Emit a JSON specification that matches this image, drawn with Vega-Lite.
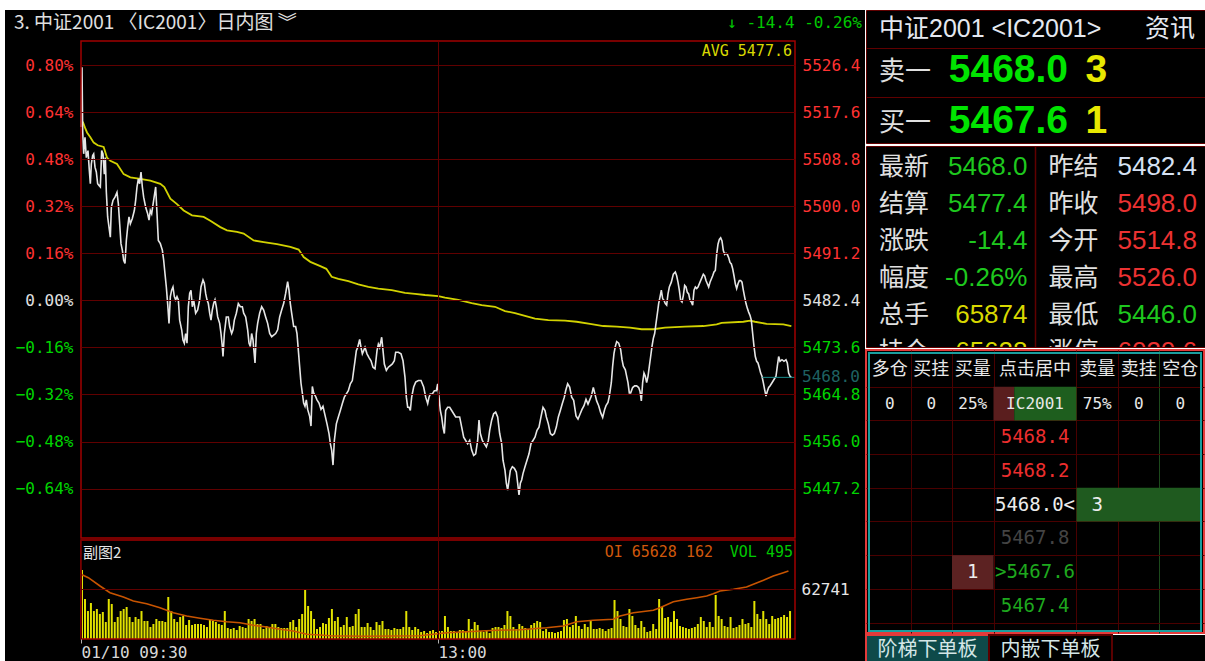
{
"$schema": "https://vega.github.io/schema/vega-lite/v6.json",
"background": "#ffffff",
"padding": {"left": 5, "top": 9, "right": 0, "bottom": 0},
"spacing": 0,
"align": "none",
"config": {
  "view": {"fill": "#000000", "stroke": null},
  "concat": {"spacing": 0},
  "axis": {"labelFont": "DejaVu Sans Mono", "labelFontSize": 16, "labelColor": "#e0e0e0", "domain": false, "ticks": false, "gridColor": "#600000", "gridWidth": 1, "labelOverlap": false, "labelFlush": false}
},
"datasets": {
  "price": [
{"m":0,"p":5514.8},{"m":0.34,"p":5526.0},{"m":0.56,"p":5514.1},{"m":0.9,"p":5509.8},{"m":1.34,"p":5512.9},{"m":1.79,"p":5509.1},{"m":2.35,"p":5510.4},{"m":2.8,"p":5506.7},{"m":3.14,"p":5504.2},{"m":3.47,"p":5507.9},{"m":3.92,"p":5509.5},{"m":4.26,"p":5509.8},{"m":4.71,"p":5507.3},{"m":5.15,"p":5506.4},{"m":5.6,"p":5504.2},{"m":6.05,"p":5503.9},{"m":6.5,"p":5503.6},{"m":6.95,"p":5510.4},{"m":7.39,"p":5509.8},{"m":7.84,"p":5506.0},{"m":8.18,"p":5509.1},{"m":8.52,"p":5502.6},{"m":8.96,"p":5498.0},{"m":9.41,"p":5496.1},{"m":9.86,"p":5494.2},{"m":10.2,"p":5499.8},{"m":10.76,"p":5501.1},{"m":11.43,"p":5501.7},{"m":12.1,"p":5502.6},{"m":12.55,"p":5500.5},{"m":13.0,"p":5496.7},{"m":13.44,"p":5493.0},{"m":13.89,"p":5491.8},{"m":14.34,"p":5489.9},{"m":14.79,"p":5489.3},{"m":15.24,"p":5493.6},{"m":15.69,"p":5496.1},{"m":16.13,"p":5498.0},{"m":16.58,"p":5496.7},{"m":17.25,"p":5497.7},{"m":17.93,"p":5499.2},{"m":18.37,"p":5501.1},{"m":18.82,"p":5503.6},{"m":19.27,"p":5505.1},{"m":19.72,"p":5504.2},{"m":20.17,"p":5506.4},{"m":20.62,"p":5503.6},{"m":21.06,"p":5501.7},{"m":21.74,"p":5499.8},{"m":22.41,"p":5498.6},{"m":22.86,"p":5497.4},{"m":23.3,"p":5499.2},{"m":23.75,"p":5498.6},{"m":24.42,"p":5501.1},{"m":25.1,"p":5503.6},{"m":25.55,"p":5498.6},{"m":25.99,"p":5493.6},{"m":26.67,"p":5493.0},{"m":27.34,"p":5491.8},{"m":27.79,"p":5489.9},{"m":28.23,"p":5487.4},{"m":28.68,"p":5484.9},{"m":29.13,"p":5481.8},{"m":29.58,"p":5478.1},{"m":30.03,"p":5483.1},{"m":30.47,"p":5484.3},{"m":30.92,"p":5484.9},{"m":31.37,"p":5483.1},{"m":31.82,"p":5482.5},{"m":32.27,"p":5483.1},{"m":32.72,"p":5482.5},{"m":33.16,"p":5478.7},{"m":33.84,"p":5476.9},{"m":34.28,"p":5475.0},{"m":34.73,"p":5474.4},{"m":35.18,"p":5476.2},{"m":35.63,"p":5474.4},{"m":36.08,"p":5481.2},{"m":36.53,"p":5483.7},{"m":36.97,"p":5484.3},{"m":37.42,"p":5481.2},{"m":37.87,"p":5482.5},{"m":38.54,"p":5480.0},{"m":39.21,"p":5480.6},{"m":39.89,"p":5482.5},{"m":40.33,"p":5484.9},{"m":41.01,"p":5486.2},{"m":41.45,"p":5485.6},{"m":41.9,"p":5483.7},{"m":42.35,"p":5482.5},{"m":42.8,"p":5481.8},{"m":43.25,"p":5480.0},{"m":43.7,"p":5478.7},{"m":44.14,"p":5480.6},{"m":44.59,"p":5481.8},{"m":45.04,"p":5482.5},{"m":45.49,"p":5481.2},{"m":45.94,"p":5479.3},{"m":46.61,"p":5478.1},{"m":47.06,"p":5476.2},{"m":47.5,"p":5473.8},{"m":47.73,"p":5471.9},{"m":48.18,"p":5476.2},{"m":48.85,"p":5479.3},{"m":49.52,"p":5479.3},{"m":49.97,"p":5477.5},{"m":50.64,"p":5476.2},{"m":51.09,"p":5476.9},{"m":51.54,"p":5478.7},{"m":52.21,"p":5480.0},{"m":52.88,"p":5481.8},{"m":53.56,"p":5481.2},{"m":54.23,"p":5481.2},{"m":54.68,"p":5480.0},{"m":55.35,"p":5479.3},{"m":56.02,"p":5476.9},{"m":56.47,"p":5474.4},{"m":56.92,"p":5473.8},{"m":57.36,"p":5476.2},{"m":57.81,"p":5475.0},{"m":58.49,"p":5470.7},{"m":58.93,"p":5476.2},{"m":59.38,"p":5478.1},{"m":60.05,"p":5480.0},{"m":60.73,"p":5481.2},{"m":61.4,"p":5480.6},{"m":62.07,"p":5479.3},{"m":62.74,"p":5478.1},{"m":63.42,"p":5476.2},{"m":64.09,"p":5475.6},{"m":64.76,"p":5475.9},{"m":65.43,"p":5476.2},{"m":66.1,"p":5476.9},{"m":66.78,"p":5479.3},{"m":67.45,"p":5480.6},{"m":68.12,"p":5481.8},{"m":68.79,"p":5483.7},{"m":69.46,"p":5485.9},{"m":69.91,"p":5484.3},{"m":70.36,"p":5481.8},{"m":70.81,"p":5480.0},{"m":71.48,"p":5477.5},{"m":72.15,"p":5477.5},{"m":72.6,"p":5476.2},{"m":73.05,"p":5473.1},{"m":73.5,"p":5470.0},{"m":73.95,"p":5466.9},{"m":74.39,"p":5465.1},{"m":74.84,"p":5463.2},{"m":75.29,"p":5462.6},{"m":75.74,"p":5463.8},{"m":76.19,"p":5462.0},{"m":76.86,"p":5460.7},{"m":77.31,"p":5458.9},{"m":77.76,"p":5466.3},{"m":78.2,"p":5465.1},{"m":78.88,"p":5464.4},{"m":79.32,"p":5463.8},{"m":80.0,"p":5463.2},{"m":80.67,"p":5462.0},{"m":81.34,"p":5462.6},
{"m":82.69,"p":5459.3},{"m":83.36,"p":5457.5},{"m":83.81,"p":5455.6},{"m":84.26,"p":5454.4},{"m":84.71,"p":5451.6},{"m":85.16,"p":5456.2},{"m":85.83,"p":5459.3},{"m":86.5,"p":5460.6},{"m":87.17,"p":5461.8},{"m":87.85,"p":5463.1},{"m":88.52,"p":5464.3},{"m":89.19,"p":5464.9},{"m":89.86,"p":5465.5},{"m":90.53,"p":5466.8},{"m":91.21,"p":5467.4},{"m":91.66,"p":5469.3},{"m":92.1,"p":5471.1},{"m":92.55,"p":5473.0},{"m":93.0,"p":5473.6},{"m":93.67,"p":5475.1},{"m":94.12,"p":5473.6},{"m":94.57,"p":5472.4},{"m":95.02,"p":5473.0},{"m":95.46,"p":5473.6},{"m":96.14,"p":5472.4},{"m":96.81,"p":5471.7},{"m":97.48,"p":5471.1},{"m":98.15,"p":5469.9},{"m":98.83,"p":5469.6},{"m":99.5,"p":5473.0},{"m":99.95,"p":5474.2},{"m":100.39,"p":5473.6},{"m":101.07,"p":5475.5},{"m":101.52,"p":5473.0},{"m":101.96,"p":5470.5},{"m":102.64,"p":5469.3},{"m":103.31,"p":5469.9},{"m":103.98,"p":5470.2},{"m":104.65,"p":5470.5},{"m":105.32,"p":5471.1},{"m":105.77,"p":5472.7},{"m":106.67,"p":5472.7},{"m":107.56,"p":5472.4},{"m":108.24,"p":5471.1},{"m":108.91,"p":5468.0},{"m":109.36,"p":5464.3},{"m":109.81,"p":5462.4},{"m":110.25,"p":5462.4},{"m":110.7,"p":5461.8},{"m":111.15,"p":5464.3},{"m":111.82,"p":5466.2},{"m":112.5,"p":5467.1},{"m":113.39,"p":5467.4},{"m":114.29,"p":5467.4},{"m":115.18,"p":5466.2},{"m":115.86,"p":5464.3},{"m":116.53,"p":5463.1},{"m":116.98,"p":5464.3},{"m":117.42,"p":5464.9},{"m":118.1,"p":5464.9},{"m":118.77,"p":5465.5},{"m":119.44,"p":5465.5},{"m":119.89,"p":5466.8},{"m":120.34,"p":5464.3},{"m":120.79,"p":5461.8},{"m":121.23,"p":5460.6},{"m":121.68,"p":5458.7},{"m":122.13,"p":5457.5},{"m":122.58,"p":5461.8},{"m":123.25,"p":5462.4},{"m":123.92,"p":5462.4},{"m":124.6,"p":5461.8},{"m":125.27,"p":5461.2},{"m":125.94,"p":5460.6},{"m":126.61,"p":5460.6},{"m":127.28,"p":5460.6},{"m":127.96,"p":5458.7},{"m":128.63,"p":5456.8},{"m":129.3,"p":5456.2},{"m":129.97,"p":5455.6},{"m":130.65,"p":5456.2},{"m":131.32,"p":5454.4},{"m":131.99,"p":5453.4},{"m":132.66,"p":5453.7},{"m":133.33,"p":5456.2},{"m":133.78,"p":5460.0},{"m":134.23,"p":5457.5},{"m":134.9,"p":5456.2},{"m":135.57,"p":5455.6},{"m":136.25,"p":5455.0},{"m":136.92,"p":5456.2},{"m":137.37,"p":5458.1},{"m":138.04,"p":5460.0},{"m":138.71,"p":5461.2},{"m":139.38,"p":5461.5},{"m":140.06,"p":5460.6},{"m":140.73,"p":5457.5},{"m":141.4,"p":5455.6},{"m":141.85,"p":5452.5},{"m":142.52,"p":5450.6},{"m":142.97,"p":5448.2},{"m":143.42,"p":5446.9},{"m":143.87,"p":5448.8},{"m":144.31,"p":5450.6},{"m":144.99,"p":5451.3},{"m":145.66,"p":5451.0},{"m":146.33,"p":5450.3},{"m":146.78,"p":5448.2},{"m":147.23,"p":5446.0},{"m":147.68,"p":5448.2},{"m":148.12,"p":5448.8},{"m":148.57,"p":5450.0},{"m":149.24,"p":5451.3},{"m":149.92,"p":5452.5},{"m":150.59,"p":5453.7},{"m":151.26,"p":5455.6},{"m":151.93,"p":5456.2},{"m":152.6,"p":5456.8},{"m":153.28,"p":5458.1},{"m":153.95,"p":5458.7},{"m":154.62,"p":5460.6},{"m":155.29,"p":5462.4},{"m":155.97,"p":5461.8},{"m":156.41,"p":5460.6},{"m":157.09,"p":5459.3},{"m":157.76,"p":5457.5},{"m":158.43,"p":5457.2},{"m":159.1,"p":5457.5},{"m":159.78,"p":5458.7},{"m":160.45,"p":5460.6},{"m":161.12,"p":5461.8},{"m":161.79,"p":5463.1},{"m":162.46,"p":5464.3},{"m":162.91,"p":5465.5},{"m":163.58,"p":5466.8},{"m":164.26,"p":5466.2},{"m":164.93,"p":5464.3},{"m":165.6,"p":5463.7},
{"m":166.39,"p":5460.8},{"m":167.06,"p":5460.2},{"m":167.73,"p":5461.1},{"m":168.4,"p":5462.0},{"m":169.08,"p":5462.7},{"m":169.75,"p":5463.9},{"m":170.42,"p":5463.0},{"m":170.87,"p":5463.6},{"m":171.54,"p":5464.5},{"m":172.21,"p":5466.1},{"m":172.66,"p":5465.1},{"m":173.33,"p":5463.6},{"m":174.01,"p":5462.7},{"m":174.68,"p":5461.4},{"m":175.35,"p":5460.5},{"m":176.02,"p":5462.0},{"m":176.47,"p":5462.7},{"m":177.14,"p":5463.3},{"m":177.59,"p":5464.5},{"m":178.26,"p":5467.0},{"m":178.71,"p":5470.1},{"m":179.16,"p":5472.5},{"m":179.61,"p":5473.8},{"m":180.06,"p":5474.7},{"m":180.73,"p":5474.4},{"m":181.4,"p":5473.2},{"m":181.85,"p":5471.3},{"m":182.3,"p":5470.1},{"m":182.97,"p":5469.4},{"m":183.42,"p":5468.2},{"m":183.86,"p":5467.0},{"m":184.31,"p":5465.1},{"m":184.76,"p":5465.1},{"m":185.43,"p":5466.1},{"m":186.11,"p":5466.4},{"m":186.78,"p":5466.4},{"m":187.45,"p":5466.1},{"m":187.9,"p":5465.4},{"m":188.35,"p":5463.6},{"m":188.79,"p":5467.0},{"m":189.24,"p":5468.8},{"m":189.69,"p":5468.2},{"m":190.14,"p":5467.0},{"m":190.59,"p":5468.2},{"m":191.04,"p":5470.1},{"m":191.48,"p":5471.9},{"m":191.93,"p":5473.8},{"m":192.38,"p":5475.3},{"m":192.83,"p":5476.2},{"m":193.28,"p":5478.1},{"m":193.73,"p":5479.9},{"m":194.17,"p":5481.8},{"m":194.62,"p":5483.0},{"m":195.07,"p":5484.3},{"m":195.52,"p":5482.7},{"m":195.97,"p":5482.4},{"m":196.41,"p":5481.8},{"m":196.86,"p":5481.5},{"m":197.31,"p":5483.6},{"m":197.76,"p":5484.9},{"m":198.43,"p":5485.8},{"m":199.1,"p":5487.3},{"m":199.77,"p":5487.7},{"m":200.22,"p":5487.0},{"m":200.67,"p":5485.8},{"m":201.12,"p":5484.3},{"m":201.57,"p":5482.4},{"m":202.02,"p":5482.1},{"m":202.46,"p":5483.3},{"m":202.91,"p":5485.2},{"m":203.36,"p":5484.9},{"m":203.81,"p":5483.9},{"m":204.26,"p":5483.6},{"m":204.71,"p":5482.4},{"m":205.15,"p":5482.1},{"m":205.6,"p":5481.5},{"m":206.05,"p":5484.3},{"m":206.5,"p":5484.9},{"m":206.95,"p":5484.6},{"m":207.39,"p":5484.9},{"m":208.07,"p":5485.8},{"m":208.74,"p":5486.7},{"m":209.19,"p":5487.3},{"m":209.64,"p":5487.0},{"m":210.08,"p":5486.1},{"m":210.53,"p":5485.5},{"m":210.98,"p":5484.9},{"m":211.43,"p":5485.8},{"m":211.88,"p":5486.4},{"m":212.33,"p":5487.0},{"m":212.77,"p":5487.7},{"m":213.22,"p":5488.0},{"m":213.67,"p":5491.0},{"m":214.12,"p":5492.9},{"m":214.57,"p":5493.8},{"m":215.01,"p":5494.1},{"m":215.46,"p":5493.5},{"m":215.91,"p":5491.7},{"m":216.36,"p":5491.0},{"m":216.81,"p":5491.2},{"m":217.25,"p":5491.0},{"m":217.7,"p":5490.4},{"m":218.15,"p":5489.5},{"m":218.6,"p":5489.2},{"m":219.05,"p":5488.3},{"m":219.49,"p":5487.0},{"m":219.94,"p":5485.5},{"m":220.39,"p":5484.6},{"m":220.84,"p":5485.5},{"m":221.29,"p":5486.1},{"m":221.73,"p":5486.1},{"m":222.18,"p":5485.8},{"m":222.63,"p":5484.3},{"m":223.08,"p":5483.0},{"m":223.53,"p":5481.8},{"m":223.98,"p":5480.9},{"m":224.42,"p":5480.2},{"m":224.87,"p":5479.6},{"m":225.32,"p":5478.7},{"m":225.77,"p":5476.2},{"m":226.22,"p":5473.8},{"m":226.66,"p":5471.9},{"m":227.11,"p":5471.0},{"m":227.56,"p":5470.7},{"m":228.01,"p":5469.8},{"m":228.46,"p":5468.8},{"m":228.9,"p":5468.2},{"m":229.35,"p":5467.0},{"m":229.8,"p":5465.7},{"m":230.25,"p":5464.5},{"m":230.7,"p":5465.4},{"m":231.15,"p":5466.1},{"m":231.59,"p":5466.4},{"m":232.27,"p":5467.0},{"m":232.94,"p":5467.6},{"m":233.61,"p":5468.2},{"m":234.06,"p":5470.1},{"m":234.51,"p":5471.9},{"m":234.96,"p":5471.0},{"m":235.63,"p":5471.3},{"m":236.3,"p":5471.0},{"m":236.97,"p":5471.3},{"m":237.42,"p":5470.7},{"m":237.87,"p":5468.8},{"m":238.32,"p":5468.2},{"m":238.77,"p":5468.0}
  ],
  "avg": [
{"m":0,"p":5516.0},{"m":0.67,"p":5515.7},{"m":1.34,"p":5514.7},{"m":2.02,"p":5513.8},{"m":3.14,"p":5512.9},{"m":4.26,"p":5511.9},{"m":5.6,"p":5511.4},{"m":7.62,"p":5511.1},{"m":8.74,"p":5509.1},{"m":9.86,"p":5508.5},{"m":12.1,"p":5507.9},{"m":14.34,"p":5506.0},{"m":16.58,"p":5505.4},{"m":19.94,"p":5505.1},{"m":23.3,"p":5504.8},{"m":26.67,"p":5504.2},{"m":28.01,"p":5503.6},{"m":30.03,"p":5501.4},{"m":32.27,"p":5500.4},{"m":34.51,"p":5499.2},{"m":37.31,"p":5498.3},{"m":41.23,"p":5498.0},{"m":43.47,"p":5497.3},{"m":46.83,"p":5496.1},{"m":49.07,"p":5495.5},{"m":52.43,"p":5495.2},{"m":54.68,"p":5494.9},{"m":58.04,"p":5493.6},{"m":61.4,"p":5493.3},{"m":65.88,"p":5492.9},{"m":70.36,"p":5492.4},{"m":73.16,"p":5491.9},{"m":74.84,"p":5490.5},{"m":77.08,"p":5489.6},{"m":80.44,"p":5488.8},{"m":82.46,"p":5488.3},{"m":84.26,"p":5486.8},{"m":86.5,"p":5486.4},{"m":89.86,"p":5486.0},{"m":93.22,"p":5485.4},{"m":96.59,"p":5484.9},{"m":99.95,"p":5484.6},{"m":104.43,"p":5484.3},{"m":108.91,"p":5483.8},{"m":112.27,"p":5483.6},{"m":115.63,"p":5483.4},{"m":120.11,"p":5483.2},{"m":122.35,"p":5482.9},{"m":126.84,"p":5482.5},{"m":131.32,"p":5481.9},{"m":134.68,"p":5481.5},{"m":139.16,"p":5481.2},{"m":142.52,"p":5480.4},{"m":145.88,"p":5480.0},{"m":149.24,"p":5479.5},{"m":152.61,"p":5479.0},{"m":157.09,"p":5478.7},{"m":162.69,"p":5478.6},{"m":166.61,"p":5478.4},{"m":171.09,"p":5478.0},{"m":175.57,"p":5477.6},{"m":180.06,"p":5477.5},{"m":184.54,"p":5477.3},{"m":188.46,"p":5477.0},{"m":192.38,"p":5477.0},{"m":196.3,"p":5477.3},{"m":203.02,"p":5477.5},{"m":209.19,"p":5477.6},{"m":213.67,"p":5477.9},{"m":215.35,"p":5478.2},{"m":222.63,"p":5478.4},{"m":224.87,"p":5478.6},{"m":226.55,"p":5478.4},{"m":230.47,"p":5478.0},{"m":236.08,"p":5477.9},{"m":238.77,"p":5477.6}
  ],
  "vol": [
{"m":0,"v":1221},{"m":1,"v":708},{"m":2,"v":495},{"m":3,"v":637},{"m":4,"v":495},{"m":5,"v":531},{"m":6,"v":443},{"m":7,"v":478},{"m":8,"v":301},{"m":9,"v":708},{"m":10,"v":620},{"m":11,"v":301},{"m":12,"v":389},{"m":13,"v":495},{"m":14,"v":531},{"m":15,"v":566},{"m":16,"v":389},{"m":17,"v":301},{"m":18,"v":389},{"m":19,"v":354},{"m":20,"v":495},{"m":21,"v":319},{"m":22,"v":319},{"m":23,"v":212},{"m":24,"v":266},{"m":25,"v":354},{"m":26,"v":319},{"m":27,"v":319},{"m":28,"v":301},{"m":29,"v":743},{"m":30,"v":495},{"m":31,"v":354},{"m":32,"v":301},{"m":33,"v":389},{"m":34,"v":407},{"m":35,"v":248},{"m":36,"v":336},{"m":37,"v":248},{"m":38,"v":266},{"m":39,"v":266},{"m":40,"v":266},{"m":41,"v":248},{"m":42,"v":212},{"m":43,"v":336},{"m":44,"v":319},{"m":45,"v":301},{"m":46,"v":266},{"m":47,"v":248},{"m":48,"v":495},{"m":49,"v":195},{"m":50,"v":177},{"m":51,"v":195},{"m":52,"v":159},{"m":53,"v":230},{"m":54,"v":212},{"m":55,"v":195},{"m":56,"v":354},{"m":57,"v":319},{"m":58,"v":354},{"m":59,"v":266},{"m":60,"v":266},{"m":61,"v":177},{"m":62,"v":230},{"m":63,"v":195},{"m":64,"v":266},{"m":65,"v":266},{"m":66,"v":212},{"m":67,"v":195},{"m":68,"v":195},{"m":69,"v":195},{"m":70,"v":301},{"m":71,"v":336},{"m":72,"v":212},{"m":73,"v":354},{"m":74,"v":443},{"m":75,"v":867},{"m":76,"v":584},{"m":77,"v":495},{"m":78,"v":354},{"m":79,"v":177},{"m":80,"v":212},{"m":81,"v":283},{"m":82,"v":266},{"m":83,"v":372},{"m":84,"v":531},{"m":85,"v":319},{"m":86,"v":389},{"m":87,"v":212},{"m":88,"v":248},{"m":89,"v":389},{"m":90,"v":212},{"m":91,"v":230},{"m":92,"v":443},{"m":93,"v":531},{"m":94,"v":212},{"m":95,"v":212},{"m":96,"v":283},{"m":97,"v":212},{"m":98,"v":159},{"m":99,"v":301},{"m":100,"v":248},{"m":101,"v":319},{"m":102,"v":177},{"m":103,"v":177},{"m":104,"v":159},{"m":105,"v":195},{"m":106,"v":177},{"m":107,"v":177},{"m":108,"v":212},{"m":109,"v":495},{"m":110,"v":212},{"m":111,"v":159},{"m":112,"v":212},{"m":113,"v":177},{"m":114,"v":124},{"m":115,"v":142},{"m":116,"v":106},{"m":117,"v":142},{"m":118,"v":159},{"m":119,"v":124},{"m":120,"v":142},{"m":121,"v":142},{"m":122,"v":407},{"m":123,"v":212},{"m":124,"v":142},{"m":125,"v":142},{"m":126,"v":124},{"m":127,"v":159},{"m":128,"v":159},{"m":129,"v":142},{"m":130,"v":354},{"m":131,"v":177},{"m":132,"v":301},{"m":133,"v":248},{"m":134,"v":142},{"m":135,"v":124},{"m":136,"v":142},{"m":137,"v":106},{"m":138,"v":195},{"m":139,"v":212},{"m":140,"v":212},{"m":141,"v":195},{"m":142,"v":248},{"m":143,"v":495},{"m":144,"v":407},{"m":145,"v":212},{"m":146,"v":177},{"m":147,"v":266},{"m":148,"v":230},{"m":149,"v":195},{"m":150,"v":177},{"m":151,"v":248},{"m":152,"v":283},{"m":153,"v":319},{"m":154,"v":301},{"m":155,"v":142},{"m":156,"v":177},{"m":157,"v":124},{"m":158,"v":124},{"m":159,"v":106},{"m":160,"v":124},{"m":161,"v":142},{"m":162,"v":336},{"m":163,"v":354},{"m":164,"v":212},{"m":165,"v":248},{"m":166,"v":407},{"m":167,"v":230},{"m":168,"v":177},{"m":169,"v":266},{"m":170,"v":212},{"m":171,"v":319},{"m":172,"v":177},{"m":173,"v":177},{"m":174,"v":195},{"m":175,"v":177},{"m":176,"v":142},{"m":177,"v":177},{"m":178,"v":195},{"m":179,"v":690},{"m":180,"v":495},{"m":181,"v":354},{"m":182,"v":230},{"m":183,"v":212},{"m":184,"v":531},{"m":185,"v":407},{"m":186,"v":248},{"m":187,"v":195},{"m":188,"v":319},{"m":189,"v":212},{"m":190,"v":124},{"m":191,"v":142},{"m":192,"v":266},{"m":193,"v":177},{"m":194,"v":708},{"m":195,"v":566},{"m":196,"v":372},{"m":197,"v":389},{"m":198,"v":301},{"m":199,"v":495},{"m":200,"v":354},{"m":201,"v":230},{"m":202,"v":212},{"m":203,"v":195},{"m":204,"v":177},{"m":205,"v":195},{"m":206,"v":212},{"m":207,"v":266},{"m":208,"v":389},{"m":209,"v":319},{"m":210,"v":212},{"m":211,"v":301},{"m":212,"v":212},{"m":213,"v":779},{"m":214,"v":407},{"m":215,"v":354},{"m":216,"v":230},{"m":217,"v":212},{"m":218,"v":389},{"m":219,"v":195},{"m":220,"v":212},{"m":221,"v":248},{"m":222,"v":354},{"m":223,"v":266},{"m":224,"v":283},{"m":225,"v":212},{"m":226,"v":673},{"m":227,"v":443},{"m":228,"v":354},{"m":229,"v":495},{"m":230,"v":354},{"m":231,"v":266},{"m":232,"v":407},{"m":233,"v":354},{"m":234,"v":372},{"m":235,"v":389},{"m":236,"v":425},{"m":237,"v":389},{"m":238,"v":495}
  ],
  "oi": [
{"m":0,"oi":65099},{"m":2.47,"oi":64554},{"m":6.39,"oi":63222},{"m":9.75,"oi":62148},{"m":14.23,"oi":61458},{"m":17.59,"oi":60816},{"m":22.07,"oi":60383},{"m":26.55,"oi":59742},{"m":31.04,"oi":58940},{"m":35.52,"oi":58410},{"m":40.0,"oi":58041},{"m":44.48,"oi":57720},{"m":48.96,"oi":57496},{"m":53.45,"oi":57336},{"m":57.93,"oi":56918},{"m":62.41,"oi":56646},{"m":66.89,"oi":56277},{"m":71.37,"oi":56004},{"m":75.85,"oi":55475},{"m":80.34,"oi":55363},{"m":84.82,"oi":55202},{"m":89.3,"oi":55202},{"m":96.02,"oi":55154},{"m":113.95,"oi":55250},{"m":122.9,"oi":55732},{"m":139.7,"oi":56117},{"m":147.6,"oi":56213},{"m":156.5,"oi":56534},{"m":162.1,"oi":56806},{"m":166.6,"oi":57496},{"m":172.2,"oi":57720},{"m":178.9,"oi":57881},{"m":181.2,"oi":58410},{"m":185.7,"oi":58940},{"m":192.4,"oi":59324},{"m":194.6,"oi":59742},{"m":199.1,"oi":60704},{"m":203.6,"oi":61089},{"m":207.0,"oi":61346},{"m":210.3,"oi":61618},{"m":212.5,"oi":61987},{"m":214.8,"oi":62420},{"m":219.3,"oi":62693},{"m":223.7,"oi":63062},{"m":226.0,"oi":63495},{"m":229.4,"oi":64136},{"m":232.7,"oi":64826},{"m":236.1,"oi":65356},{"m":237.8,"oi":65628}
  ],
  "quote": [
{"row":0,"col":"name","kind":"title","text":"中证2001 <IC2001>"},
{"row":0,"col":"info","kind":"info","text":"资讯"},
{"row":1,"col":"name","kind":"label","text":"卖一"},
{"row":1,"col":"price","kind":"price","text":"5468.0"},
{"row":1,"col":"qty","kind":"qty","text":"3"},
{"row":2,"col":"name","kind":"label","text":"买一"},
{"row":2,"col":"price","kind":"price","text":"5467.6"},
{"row":2,"col":"qty","kind":"qty","text":"1"}
  ],
  "info": [
{"row":0,"side":"L","label":"最新","value":"5468.0","kind":"down"},
{"row":0,"side":"R","label":"昨结","value":"5482.4","kind":"ref"},
{"row":1,"side":"L","label":"结算","value":"5477.4","kind":"down"},
{"row":1,"side":"R","label":"昨收","value":"5498.0","kind":"up"},
{"row":2,"side":"L","label":"涨跌","value":"-14.4","kind":"down"},
{"row":2,"side":"R","label":"今开","value":"5514.8","kind":"up"},
{"row":3,"side":"L","label":"幅度","value":"-0.26%","kind":"down"},
{"row":3,"side":"R","label":"最高","value":"5526.0","kind":"up"},
{"row":4,"side":"L","label":"总手","value":"65874","kind":"vol"},
{"row":4,"side":"R","label":"最低","value":"5446.0","kind":"down"},
{"row":5,"side":"L","label":"持仓","value":"65628","kind":"vol"},
{"row":5,"side":"R","label":"涨停","value":"6030.6","kind":"up"}
  ],
  "cells": [
{"r":1,"c0":3,"c1":3.5,"kind":"bidpct"},
{"r":1,"c0":3.5,"c1":5,"kind":"askpct"},
{"r":4,"c0":5,"c1":8,"kind":"ask"},
{"r":6,"c0":2,"c1":3,"kind":"bid"}
  ],
  "book": [
{"r":0,"c0":0,"c1":1,"text":"多仓","kind":"head"},
{"r":0,"c0":1,"c1":2,"text":"买挂","kind":"head"},
{"r":0,"c0":2,"c1":3,"text":"买量","kind":"head"},
{"r":0,"c0":3,"c1":5,"text":"点击居中","kind":"head"},
{"r":0,"c0":5,"c1":6,"text":"卖量","kind":"head"},
{"r":0,"c0":6,"c1":7,"text":"卖挂","kind":"head"},
{"r":0,"c0":7,"c1":8,"text":"空仓","kind":"head"},
{"r":1,"c0":0,"c1":1,"text":"0","kind":"cell"},
{"r":1,"c0":1,"c1":2,"text":"0","kind":"cell"},
{"r":1,"c0":2,"c1":3,"text":"25%","kind":"cell"},
{"r":1,"c0":3,"c1":5,"text":"IC2001","kind":"cell"},
{"r":1,"c0":5,"c1":6,"text":"75%","kind":"cell"},
{"r":1,"c0":6,"c1":7,"text":"0","kind":"cell"},
{"r":1,"c0":7,"c1":8,"text":"0","kind":"cell"},
{"r":2,"c0":3,"c1":5,"text":"5468.4","kind":"askp"},
{"r":3,"c0":3,"c1":5,"text":"5468.2","kind":"askp"},
{"r":4,"c0":3,"c1":5,"text":"5468.0<","kind":"last"},
{"r":4,"c0":5,"c1":6,"text":"3","kind":"last"},
{"r":5,"c0":3,"c1":5,"text":"5467.8","kind":"mid"},
{"r":6,"c0":2,"c1":3,"text":"1","kind":"last"},
{"r":6,"c0":3,"c1":5,"text":">5467.6","kind":"bidp"},
{"r":7,"c0":3,"c1":5,"text":"5467.4","kind":"bidp"}
  ],
  "tabs": [
{"tab":"阶梯下单板","state":"on"},
{"tab":"内嵌下单板","state":"off"}
  ]
},
"hconcat": [
 {"spacing": 0, "align": "none", "vconcat": [
  {
   "width": 714, "height": 30,
   "layer": [
    {"data": {"values": [{}]},
     "mark": {"type": "rect", "color": "#000000", "xOffset": -76, "x2Offset": 70},
     "encoding": {
      "x": {"datum": 0, "type": "quantitative", "scale": {"domain": [0, 1], "nice": false, "zero": false}, "axis": null},
      "x2": {"datum": 1},
      "y": {"datum": 0, "type": "quantitative", "scale": {"domain": [0, 1], "nice": false, "zero": false}, "axis": null},
      "y2": {"datum": 1}}},
    {"data": {"values": [{"t": "3. 中证2001 〈IC2001〉日内图 ︾"}]},
     "mark": {"type": "text", "align": "left", "baseline": "middle", "dx": -67, "color": "#e0e0e0", "font": "Noto Sans CJK SC", "fontSize": 19},
     "encoding": {"x": {"datum": 0, "type": "quantitative"}, "y": {"datum": 0.56, "type": "quantitative"}, "text": {"field": "t"}}},
    {"data": {"values": [{"t": "↓ -14.4 -0.26%"}]},
     "mark": {"type": "text", "align": "right", "baseline": "middle", "dx": 67, "color": "#00c800", "font": "DejaVu Sans Mono", "fontSize": 16},
     "encoding": {"x": {"datum": 1, "type": "quantitative"}, "y": {"datum": 0.56, "type": "quantitative"}, "text": {"field": "t"}}}
   ]
  },
  {
   "width": 714, "height": 497,
   "resolve": {"axis": {"y": "independent"}},
   "layer": [
    {"data": {"values": [{}]},
     "mark": {"type": "rect", "color": "#000000", "xOffset": -76, "x2Offset": 70, "yOffset": -1, "y2Offset": 1},
     "encoding": {
      "x": {"datum": 0, "type": "quantitative", "scale": {"domain": [0, 240], "nice": false, "zero": false, "padding": 0}, "axis": {"values": [120], "grid": true, "labels": false, "title": null, "zindex": 1}},
      "x2": {"datum": 240},
      "y": {"datum": 5530.9, "type": "quantitative", "scale": {"domain": [5437.96, 5530.9], "nice": false, "zero": false}, "axis": null},
      "y2": {"datum": 5437.96}}},
    {"data": {"name": "avg"},
     "mark": {"type": "line", "color": "#d2d200", "strokeWidth": 1.8},
     "encoding": {
      "x": {"field": "m", "type": "quantitative"},
      "y": {"field": "p", "type": "quantitative", "scale": {"domain": [5437.96, 5530.9], "nice": false, "zero": false},
            "axis": {"orient": "right", "title": null, "grid": false, "zindex": 1, "values": [5447.2, 5456.0, 5464.8, 5473.6, 5482.4, 5491.2, 5500.0, 5508.8, 5517.6, 5526.4], "format": ".1f", "labelPadding": 7,
                     "labelColor": {"condition": [{"test": "datum.value > 5482.5", "value": "#ff3232"}, {"test": "datum.value < 5482.3", "value": "#00d400"}], "value": "#e0e0e0"}}}}},
    {"data": {"name": "price"},
     "mark": {"type": "line", "color": "#e6e6e6", "strokeWidth": 1.6},
     "encoding": {
      "x": {"field": "m", "type": "quantitative"},
      "y": {"field": "p", "type": "quantitative", "scale": {"domain": [5437.96, 5530.9], "nice": false, "zero": false},
            "axis": {"orient": "left", "title": null, "grid": true, "zindex": 1, "values": [5447.2, 5456.0, 5464.8, 5473.6, 5482.4, 5491.2, 5500.0, 5508.8, 5517.6, 5526.4], "labelPadding": 8,
                     "labelExpr": "format((datum.value - 5482.4) / 5482.4 * 100, '.2f') + '%'",
                     "labelColor": {"condition": [{"test": "datum.value > 5482.5", "value": "#ff3232"}, {"test": "datum.value < 5482.3", "value": "#00d400"}], "value": "#e0e0e0"}}}}},
    {"data": {"values": [{"m0": 229, "m1": 240, "p": 5468.0}]},
     "mark": {"type": "rule", "color": "#1a8c8c", "strokeWidth": 1},
     "encoding": {"x": {"field": "m0", "type": "quantitative"}, "x2": {"field": "m1"}, "y": {"field": "p", "type": "quantitative", "axis": null}}},
    {"data": {"values": [{}]},
     "mark": {"type": "rect", "fillOpacity": 0, "stroke": "#a00000", "strokeWidth": 1.5},
     "encoding": {"x": {"datum": 0, "type": "quantitative"}, "x2": {"datum": 240}, "y": {"datum": 5530.9, "type": "quantitative", "axis": null}, "y2": {"datum": 5437.96}}},
    {"data": {"values": [{"t": "AVG 5477.6"}]},
     "mark": {"type": "text", "align": "right", "baseline": "middle", "dx": -3, "dy": 10, "color": "#d8d800", "font": "DejaVu Sans Mono", "fontSize": 15},
     "encoding": {"x": {"datum": 240, "type": "quantitative"}, "y": {"datum": 5530.9, "type": "quantitative", "axis": null}, "text": {"field": "t"}}},
    {"data": {"values": [{"t": "5468.0", "p": 5468.0}]},
     "mark": {"type": "text", "align": "left", "baseline": "middle", "dx": 7, "color": "#1f6262", "font": "DejaVu Sans Mono", "fontSize": 16},
     "encoding": {"x": {"datum": 240, "type": "quantitative"}, "y": {"field": "p", "type": "quantitative", "axis": null}, "text": {"field": "t"}}}
   ]
  },
  {
   "width": 714, "height": 99,
   "resolve": {"scale": {"y": "independent"}},
   "layer": [
    {"layer": [
     {"data": {"values": [{}]},
      "mark": {"type": "rect", "color": "#000000", "xOffset": -76, "x2Offset": 70, "yOffset": -1, "y2Offset": 23},
      "encoding": {
       "x": {"datum": 0, "type": "quantitative", "scale": {"domain": [0, 240], "nice": false, "zero": false, "padding": 0},
             "axis": {"values": [0, 120], "title": null, "grid": true, "zindex": 1, "labelExpr": "datum.value == 0 ? '01/10 09:30' : '13:00'", "labelAlign": "left", "labelBaseline": "top", "labelPadding": 1, "ticks": true, "tickSize": 4, "tickColor": "#b0b0b0", "labelColor": "#d8d8d8"}},
       "x2": {"datum": 240},
       "y": {"datum": 1752, "type": "quantitative", "scale": {"domain": [0, 1752], "nice": false, "zero": false}, "axis": null},
       "y2": {"datum": 0}}},
     {"data": {"name": "vol"},
      "mark": {"type": "bar", "color": "#e2e200", "width": 2, "xOffset": 1},
      "encoding": {"x": {"field": "m", "type": "quantitative"}, "y": {"field": "v", "type": "quantitative"}}},
     {"data": {"values": [{}]},
      "mark": {"type": "rect", "fillOpacity": 0, "stroke": "#a00000", "strokeWidth": 1.5},
      "encoding": {"x": {"datum": 0, "type": "quantitative"}, "x2": {"datum": 240}, "y": {"datum": 1752, "type": "quantitative"}, "y2": {"datum": 0}}},
     {"data": {"values": [{"t": "副图2"}]},
      "mark": {"type": "text", "align": "left", "baseline": "middle", "dx": 2, "dy": 13, "color": "#e6e6e6", "font": "Noto Sans CJK SC", "fontSize": 15},
      "encoding": {"x": {"datum": 0, "type": "quantitative"}, "y": {"datum": 1752, "type": "quantitative"}, "text": {"field": "t"}}},
     {"data": {"values": [{"t": "VOL 495"}]},
      "mark": {"type": "text", "align": "right", "baseline": "middle", "dx": -2, "dy": 12, "color": "#00c800", "font": "DejaVu Sans Mono", "fontSize": 15},
      "encoding": {"x": {"datum": 240, "type": "quantitative"}, "y": {"datum": 1752, "type": "quantitative"}, "text": {"field": "t"}}},
     {"data": {"values": [{"t": "OI 65628  162"}]},
      "mark": {"type": "text", "align": "right", "baseline": "middle", "dx": -82, "dy": 12, "color": "#d0580c", "font": "DejaVu Sans Mono", "fontSize": 15},
      "encoding": {"x": {"datum": 240, "type": "quantitative"}, "y": {"datum": 1752, "type": "quantitative"}, "text": {"field": "t"}}}
    ]},
    {"data": {"name": "oi"},
     "mark": {"type": "line", "color": "#c85400", "strokeWidth": 1.6},
     "encoding": {
      "x": {"field": "m", "type": "quantitative"},
      "y": {"field": "oi", "type": "quantitative", "scale": {"domain": [54721, 70601], "nice": false, "zero": false},
            "axis": {"orient": "right", "title": null, "values": [62741], "format": "d", "grid": true, "zindex": 1, "labelPadding": 6, "labelColor": "#e6e6e6"}}}}
   ]
  }
 ]},
 {"spacing": 0, "align": "none", "vconcat": [
  {
   "width": 339, "height": 133,
   "view": {"stroke": "#600000"},
   "data": {"name": "quote"},
   "encoding": {"y": {"field": "row", "type": "quantitative", "scale": {"domain": [-0.1765, 2.431], "reverse": true, "nice": false, "zero": false},
                      "axis": {"values": [0.563, 1.524], "grid": true, "labels": false, "title": null, "zindex": 0, "gridColor": "#600000"}}},
   "layer": [
    {"transform": [{"filter": "datum.kind == 'title'"}],
     "mark": {"type": "text", "align": "left", "baseline": "middle", "dx": 13, "dy": 10, "font": "Liberation Sans, Noto Sans CJK SC", "fontSize": 25, "color": "#e4e8f0"},
     "encoding": {"x": {"field": "col", "type": "nominal", "scale": {"type": "band", "domain": ["name", "price", "qty", "info"], "paddingInner": 0, "paddingOuter": 0}, "bandPosition": 0, "axis": null}, "text": {"field": "text"}}},
    {"transform": [{"filter": "datum.kind == 'info'"}],
     "mark": {"type": "text", "align": "right", "baseline": "middle", "dx": -10, "dy": 10, "font": "Noto Sans CJK SC", "fontSize": 25, "color": "#e4e8f0"},
     "encoding": {"x": {"field": "col", "type": "nominal", "bandPosition": 1, "axis": null}, "text": {"field": "text"}}},
    {"transform": [{"filter": "datum.kind == 'label'"}],
     "mark": {"type": "text", "align": "left", "baseline": "middle", "dx": 13, "dy": 2, "font": "Noto Sans CJK SC", "fontSize": 26, "color": "#e0e0e0"},
     "encoding": {"x": {"field": "col", "type": "nominal", "bandPosition": 0, "axis": null}, "text": {"field": "text"}}},
    {"transform": [{"filter": "datum.kind == 'price'"}],
     "mark": {"type": "text", "align": "left", "baseline": "middle", "dx": -2, "font": "Liberation Sans", "fontWeight": "bold", "fontSize": 39, "color": "#00e400"},
     "encoding": {"x": {"field": "col", "type": "nominal", "bandPosition": 0, "axis": null}, "text": {"field": "text"}}},
    {"transform": [{"filter": "datum.kind == 'qty'"}],
     "mark": {"type": "text", "align": "left", "baseline": "middle", "dx": 50, "font": "Liberation Sans", "fontWeight": "bold", "fontSize": 39, "color": "#e8e800"},
     "encoding": {"x": {"field": "col", "type": "nominal", "bandPosition": 0, "axis": null}, "text": {"field": "text"}}}
   ]
  },
  {
   "width": 339, "height": 201,
   "view": {"stroke": "#600000"},
   "layer": [
    {"data": {"values": [{}]},
     "mark": {"type": "rule", "color": "#600000", "strokeWidth": 1.5},
     "encoding": {"x": {"datum": "R", "type": "nominal", "scale": {"type": "band", "domain": ["L", "R"], "paddingInner": 0, "paddingOuter": 0}, "bandPosition": 0, "axis": null}}},
    {"data": {"name": "info"},
     "mark": {"type": "text", "align": "left", "baseline": "middle", "dx": 13, "font": "Noto Sans CJK SC", "fontSize": 25, "color": "#e0e0e0", "clip": true},
     "encoding": {"x": {"field": "side", "type": "nominal", "bandPosition": 0, "axis": null},
                  "y": {"field": "row", "type": "quantitative", "scale": {"domain": [-0.566, 4.852], "reverse": true, "nice": false, "zero": false}, "axis": null},
                  "text": {"field": "label"}}},
    {"data": {"name": "info"},
     "mark": {"type": "text", "align": "right", "baseline": "middle", "dx": -8, "font": "Liberation Sans", "fontSize": 26, "clip": true},
     "encoding": {"x": {"field": "side", "type": "nominal", "bandPosition": 1, "axis": null},
                  "y": {"field": "row", "type": "quantitative", "axis": null},
                  "color": {"field": "kind", "type": "nominal", "scale": {"domain": ["down", "up", "vol", "ref"], "range": ["#1ec81e", "#ec3232", "#d8d800", "#d6e2f4"]}, "legend": null},
                  "text": {"field": "value"}}}
   ]
  },
  {
   "width": 338, "height": 283,
   "view": {"stroke": "#e43a3a", "strokeWidth": 2},
   "resolve": {"scale": {"color": "independent"}},
   "layer": [
    {"data": {"name": "cells"},
     "transform": [{"calculate": "datum.r + 1", "as": "r1"}],
     "mark": {"type": "rect"},
     "encoding": {
      "x": {"field": "c0", "type": "quantitative", "scale": {"domain": [-0.0723, 8.0723], "nice": false, "zero": false},
            "axis": {"values": [1, 2, 3, 5, 6, 7], "grid": true, "labels": false, "title": null, "zindex": 0, "gridColor": {"condition": {"test": "datum.value == 7", "value": "#1c4a1c"}, "value": "#4a0000"}}},
      "x2": {"field": "c1"},
      "y": {"field": "r", "type": "quantitative", "scale": {"domain": [-0.089, 8.309], "reverse": true, "nice": false, "zero": false},
            "axis": {"values": [1, 2, 3, 4, 5, 6, 7, 8], "grid": true, "labels": false, "title": null, "zindex": 0, "gridColor": "#4a0000"}},
      "y2": {"field": "r1"},
      "color": {"field": "kind", "type": "nominal", "scale": {"domain": ["bidpct", "askpct", "ask", "bid"], "range": ["#5a1e1e", "#1e5e1e", "#1f5a1f", "#5c2222"]}, "legend": null}}},
    {"data": {"values": [{}]},
     "mark": {"type": "rect", "fillOpacity": 0, "stroke": "#1a9e9e", "strokeWidth": 2},
     "encoding": {"x": {"datum": 0, "type": "quantitative"}, "x2": {"datum": 8}, "y": {"datum": 0, "type": "quantitative"}, "y2": {"datum": 8.25}}},
    {"data": {"name": "book"},
     "transform": [{"filter": "datum.kind == 'head'"}, {"calculate": "(datum.c0 + datum.c1) / 2", "as": "cx"}, {"calculate": "datum.r + 0.5", "as": "cy"}],
     "mark": {"type": "text", "align": "center", "baseline": "middle", "font": "Noto Sans CJK SC", "fontSize": 18, "color": "#e8e8e8"},
     "encoding": {"x": {"field": "cx", "type": "quantitative"}, "y": {"field": "cy", "type": "quantitative"}, "text": {"field": "text"}}},
    {"data": {"name": "book"},
     "transform": [{"filter": "datum.kind == 'cell'"}, {"calculate": "(datum.c0 + datum.c1) / 2", "as": "cx"}, {"calculate": "datum.r + 0.5", "as": "cy"}],
     "mark": {"type": "text", "align": "center", "baseline": "middle", "font": "DejaVu Sans Mono", "fontSize": 16, "color": "#e8e8e8"},
     "encoding": {"x": {"field": "cx", "type": "quantitative"}, "y": {"field": "cy", "type": "quantitative"}, "text": {"field": "text"}}},
    {"data": {"name": "book"},
     "transform": [{"filter": "datum.kind != 'head' && datum.kind != 'cell'"}, {"calculate": "(datum.c0 + datum.c1) / 2", "as": "cx"}, {"calculate": "datum.r + 0.5", "as": "cy"}],
     "mark": {"type": "text", "align": "center", "baseline": "middle", "font": "DejaVu Sans Mono", "fontSize": 19},
     "encoding": {"x": {"field": "cx", "type": "quantitative"}, "y": {"field": "cy", "type": "quantitative"},
                  "color": {"field": "kind", "type": "nominal", "scale": {"domain": ["askp", "last", "mid", "bidp"], "range": ["#ec2e2e", "#ececec", "#444444", "#1ea81e"]}, "legend": null},
                  "text": {"field": "text"}}}
   ]
  },
  {
   "width": 339, "height": 29,
   "data": {"name": "tabs"},
   "layer": [
    {"mark": {"type": "rect", "strokeWidth": 2},
     "encoding": {
      "x": {"field": "tab", "type": "nominal", "scale": {"type": "band", "domain": ["阶梯下单板", "内嵌下单板"], "range": [0, 246], "paddingInner": 0, "paddingOuter": 0}, "axis": null},
      "y": {"datum": 0, "type": "quantitative", "scale": {"domain": [0, 1]}, "axis": null},
      "y2": {"datum": 1},
      "fill": {"field": "state", "type": "nominal", "scale": {"domain": ["on", "off"], "range": ["#0e4a4a", "#000000"]}, "legend": null},
      "stroke": {"field": "state", "type": "nominal", "scale": {"domain": ["on", "off"], "range": ["#e43a3a", "#5a0000"]}, "legend": null}}},
    {"mark": {"type": "text", "align": "center", "baseline": "middle", "font": "Noto Sans CJK SC", "fontSize": 20, "color": "#d4e6e6"},
     "encoding": {"x": {"field": "tab", "type": "nominal", "axis": null}, "y": {"datum": 0.5, "type": "quantitative"}, "text": {"field": "tab"}}}
   ]
  }
 ]}
]
}
